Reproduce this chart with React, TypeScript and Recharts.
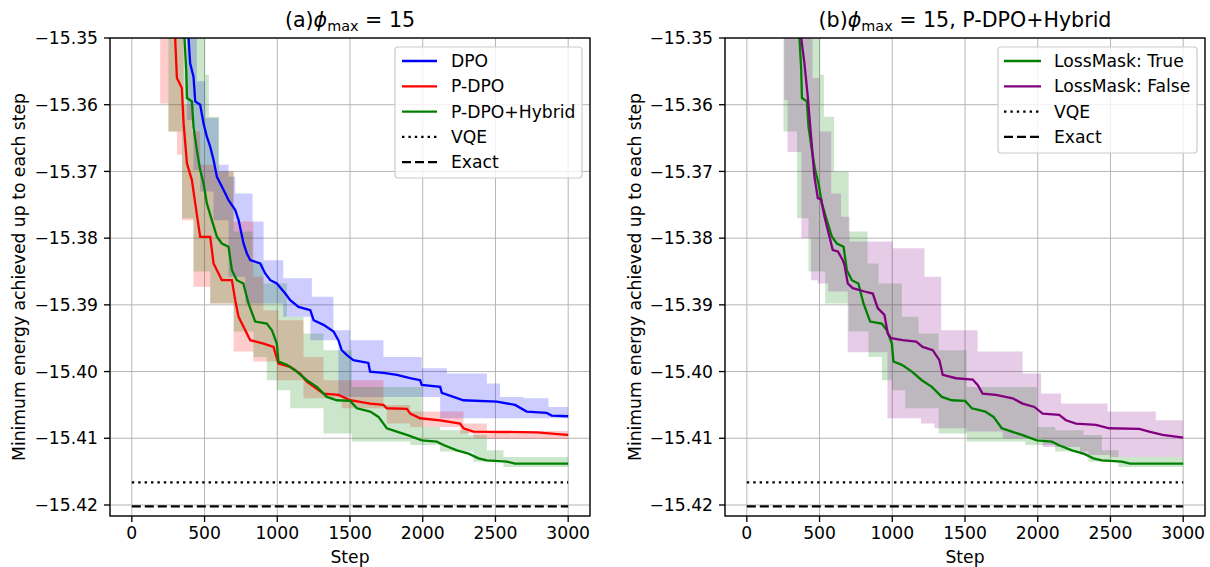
import React from 'react';
import { ComposedChart, Line, Area, XAxis, YAxis, CartesianGrid } from 'recharts';

// ---------- shared axis values ----------
const xTicks = [0, 500, 1000, 1500, 2000, 2500, 3000];
const yTicks = [-15.42, -15.41, -15.4, -15.39, -15.38, -15.37, -15.36, -15.35];
const xDomain = [-150, 3150];
const yDomain = [-15.42165, -15.35];

// reference energies
const vqeSteps = [0, 3000];
const vqeEnergy = -15.4166;
const exactEnergy = -15.4202;

// ---------- panel (a) : DPO ----------
const dpoSteps = [370, 390, 401, 424, 436, 470, 493, 516, 539, 562, 585, 631, 665, 711, 734, 768, 791, 814, 883, 917, 952, 997, 1055, 1089, 1146, 1227, 1250, 1318, 1387, 1420, 1443, 1477, 1523, 1626, 1638, 1730, 1822, 1913, 1982, 1993, 2120, 2131, 2211, 2280, 2509, 2635, 2715, 2852, 2887, 3000];
const dpoMean = [-15.347, -15.35, -15.3538, -15.3558, -15.3595, -15.36, -15.3628, -15.3648, -15.3663, -15.3683, -15.3708, -15.3728, -15.3743, -15.3758, -15.3773, -15.3808, -15.3823, -15.3833, -15.3838, -15.3853, -15.3863, -15.3868, -15.3883, -15.3893, -15.3903, -15.3908, -15.3923, -15.393, -15.394, -15.3953, -15.3968, -15.3975, -15.3983, -15.3987, -15.4, -15.4002, -15.4005, -15.401, -15.4013, -15.402, -15.4023, -15.4032, -15.4038, -15.4043, -15.4045, -15.405, -15.406, -15.4062, -15.4066, -15.4067];
const dpoBandSteps = [380, 424, 447, 470, 505, 562, 596, 665, 711, 780, 830, 906, 1041, 1227, 1238, 1386, 1420, 1501, 1730, 1993, 2120, 2166, 2441, 2532, 2693, 2864, 3000];
const dpoLo = [-15.3623, -15.3698, -15.3698, -15.373, -15.373, -15.3773, -15.3773, -15.3858, -15.3858, -15.3898, -15.3898, -15.3898, -15.3918, -15.3953, -15.3953, -15.3953, -15.4038, -15.4038, -15.4038, -15.4038, -15.407, -15.407, -15.407, -15.407, -15.407, -15.407, -15.407];
const dpoHi = [-15.345, -15.345, -15.3565, -15.3565, -15.362, -15.362, -15.369, -15.3708, -15.3733, -15.3733, -15.3775, -15.3833, -15.386, -15.386, -15.3888, -15.3938, -15.3938, -15.3953, -15.3978, -15.3995, -15.3995, -15.4003, -15.4018, -15.4038, -15.404, -15.4053, -15.4053];

// ---------- panel (a) : P-DPO ----------
const pdpoSteps = [280, 298, 310, 344, 356, 379, 413, 436, 470, 539, 562, 596, 619, 688, 711, 734, 780, 814, 906, 974, 1008, 1089, 1157, 1203, 1318, 1421, 1501, 1639, 1730, 1753, 1891, 1914, 1982, 2120, 2257, 2280, 2349, 2785, 2991, 3000];
const pdpoMean = [-15.345, -15.35, -15.356, -15.3575, -15.3628, -15.3688, -15.3713, -15.3748, -15.3798, -15.3798, -15.3838, -15.3853, -15.3863, -15.3863, -15.3893, -15.3918, -15.3938, -15.3953, -15.3958, -15.3963, -15.3988, -15.3993, -15.4003, -15.4015, -15.4033, -15.4035, -15.4043, -15.4048, -15.405, -15.4055, -15.4056, -15.4063, -15.407, -15.4073, -15.4078, -15.4085, -15.409, -15.4091, -15.4095, -15.4095];
const pdpoBandSteps = [195, 252, 310, 345, 356, 413, 424, 470, 539, 573, 700, 836, 905, 997, 1008, 1180, 1318, 1443, 1730, 1753, 1914, 2257, 2280, 2350, 2441, 3000];
const pdpoLo = [-15.3598, -15.364, -15.3675, -15.3773, -15.3773, -15.3773, -15.3873, -15.3873, -15.3898, -15.3898, -15.397, -15.3985, -15.3985, -15.4013, -15.4013, -15.404, -15.404, -15.4055, -15.4055, -15.4078, -15.4083, -15.4093, -15.4093, -15.41, -15.4101, -15.4101];
const pdpoHi = [-15.345, -15.345, -15.345, -15.345, -15.36, -15.364, -15.364, -15.369, -15.369, -15.37, -15.3775, -15.3858, -15.3908, -15.3908, -15.3923, -15.3978, -15.4013, -15.4013, -15.405, -15.405, -15.406, -15.406, -15.4078, -15.4078, -15.4089, -15.4089];

// ---------- P-DPO+Hybrid (= LossMask: True) ----------
const hybSteps = [350, 362, 374, 379, 413, 424, 447, 470, 493, 516, 550, 585, 619, 665, 688, 722, 767, 802, 848, 928, 963, 997, 1008, 1066, 1135, 1203, 1272, 1341, 1410, 1501, 1547, 1639, 1696, 1753, 1822, 1891, 1994, 2097, 2143, 2235, 2315, 2383, 2441, 2578, 2635, 3000];
const hybMean = [-15.345, -15.35, -15.3548, -15.359, -15.3595, -15.3633, -15.3668, -15.3698, -15.3718, -15.3748, -15.3773, -15.3798, -15.3808, -15.3813, -15.3848, -15.3863, -15.3868, -15.3898, -15.3925, -15.3928, -15.3938, -15.3958, -15.3985, -15.399, -15.4, -15.4013, -15.4023, -15.4038, -15.4043, -15.4044, -15.4055, -15.406, -15.4068, -15.4085, -15.409, -15.4095, -15.4103, -15.4105, -15.411, -15.4118, -15.4123, -15.413, -15.4133, -15.4135, -15.4138, -15.4138];
const hybBandSteps = [252, 345, 380, 424, 505, 530, 539, 600, 700, 830, 836, 905, 928, 997, 1066, 1089, 1180, 1318, 1512, 1914, 1994, 2120, 2315, 2349, 2441, 2555, 3000];
const hybLo = [-15.364, -15.377, -15.377, -15.385, -15.385, -15.385, -15.3898, -15.3898, -15.394, -15.394, -15.3978, -15.3978, -15.4013, -15.4028, -15.4028, -15.4055, -15.4055, -15.4093, -15.4105, -15.411, -15.411, -15.412, -15.412, -15.4135, -15.4135, -15.4143, -15.4143];
const hybHi = [-15.345, -15.345, -15.345, -15.345, -15.3555, -15.3618, -15.3618, -15.37, -15.379, -15.3838, -15.3838, -15.3868, -15.3868, -15.3868, -15.3918, -15.3918, -15.3943, -15.3968, -15.4023, -15.4023, -15.4083, -15.4088, -15.4095, -15.4095, -15.4118, -15.4128, -15.4128];

// ---------- panel (b) : LossMask: False ----------
const lmfSteps = [360, 374, 396, 419, 442, 465, 488, 511, 534, 568, 591, 626, 660, 671, 694, 728, 809, 866, 900, 946, 969, 992, 1072, 1164, 1209, 1278, 1324, 1347, 1438, 1553, 1587, 1621, 1713, 1827, 1896, 1977, 2034, 2148, 2194, 2263, 2400, 2492, 2698, 2766, 2858, 3000];
const lmfMean = [-15.345, -15.35, -15.3538, -15.3588, -15.3648, -15.3708, -15.374, -15.3742, -15.3768, -15.3798, -15.3818, -15.382, -15.3833, -15.384, -15.3868, -15.3875, -15.388, -15.3883, -15.3905, -15.3915, -15.3943, -15.395, -15.3953, -15.3955, -15.3963, -15.3968, -15.3983, -15.4005, -15.401, -15.4012, -15.402, -15.4033, -15.4035, -15.404, -15.4048, -15.4053, -15.4063, -15.4065, -15.4073, -15.4078, -15.408, -15.4085, -15.4086, -15.409, -15.4095, -15.4099];
const lmfBandSteps = [257, 280, 375, 442, 452, 487, 499, 560, 580, 648, 694, 706, 967, 1003, 1198, 1221, 1290, 1336, 1510, 1587, 1760, 1896, 2023, 2034, 2160, 2290, 2480, 2500, 2812, 3000];
const lmfLo = [-15.3593, -15.3671, -15.38, -15.3863, -15.3863, -15.3868, -15.3868, -15.388, -15.388, -15.388, -15.3971, -15.3971, -15.407, -15.407, -15.4078, -15.4078, -15.4085, -15.4085, -15.409, -15.409, -15.41, -15.41, -15.41, -15.4113, -15.4113, -15.4125, -15.4125, -15.4128, -15.4128, -15.4128];
const lmfHi = [-15.345, -15.345, -15.345, -15.345, -15.356, -15.356, -15.364, -15.364, -15.3733, -15.3768, -15.3768, -15.3805, -15.3805, -15.3815, -15.3815, -15.3858, -15.3858, -15.3938, -15.3938, -15.397, -15.397, -15.4003, -15.4033, -15.4033, -15.4048, -15.4048, -15.406, -15.406, -15.4073, -15.4073];

// ---------- helpers ----------
const mkLine = (steps: number[], vals: number[]) => steps.map((s, i) => ({ step: s, v: vals[i] }));
const mkBand = (steps: number[], lo: number[], hi: number[]) => steps.map((s, i) => ({ step: s, r: [lo[i], hi[i]] }));
const mkConst = (steps: number[], val: number) => steps.map((s) => ({ step: s, v: val }));

const FONT = "'DejaVu Sans', 'Liberation Sans', sans-serif";
const FS = 17.2;
const LW = 2.3;
const DOT = '2.4 4';
const DASH = '9 4';

const BLUE = '#0000ff';
const RED = '#ff0000';
const GREEN = '#008000';
const PURPLE = '#800080';

type SeriesDef = { name: string; color: string; line: { step: number; v: number }[]; band: { step: number; r: number[] }[] };

const panelA: SeriesDef[] = [
  { name: 'DPO', color: BLUE, line: mkLine(dpoSteps, dpoMean), band: mkBand(dpoBandSteps, dpoLo, dpoHi) },
  { name: 'P-DPO', color: RED, line: mkLine(pdpoSteps, pdpoMean), band: mkBand(pdpoBandSteps, pdpoLo, pdpoHi) },
  { name: 'P-DPO+Hybrid', color: GREEN, line: mkLine(hybSteps, hybMean), band: mkBand(hybBandSteps, hybLo, hybHi) },
];
const panelB: SeriesDef[] = [
  { name: 'LossMask: True', color: GREEN, line: mkLine(hybSteps, hybMean), band: mkBand(hybBandSteps, hybLo, hybHi) },
  { name: 'LossMask: False', color: PURPLE, line: mkLine(lmfSteps, lmfMean), band: mkBand(lmfBandSteps, lmfLo, lmfHi) },
];

const PW = 605;
const PH = 567;
const PLOT_TOP = 38;
const PLOT_H = 478;
const PLOT_W = 480;
const YAXIS_W = 70;
const XAXIS_H = 40;

const fmtY = (v: number) => v.toFixed(2).replace('-', '\u2212');

type PanelProps = {
  left: number;
  plotLeft: number;
  series: SeriesDef[];
  titleTail: string;
  titlePrefix: string;
  legendBox: { x: number; y: number; w: number; h: number };
  legendSample: [number, number];
  legendTextX: number;
  ylabelX: number;
};

function Panel(p: PanelProps) {
  const marginLeft = p.plotLeft - YAXIS_W;
  const marginRight = PW - p.plotLeft - PLOT_W;
  const marginBottom = PH - PLOT_TOP - PLOT_H - XAXIS_H;
  const legendItems = [
    ...p.series.map((s) => ({ name: s.name, color: s.color, dash: undefined as string | undefined })),
    { name: 'VQE', color: '#000', dash: DOT },
    { name: 'Exact', color: '#000', dash: DASH },
  ];
  const tick = { fontFamily: FONT, fontSize: FS, fill: '#000' };
  return (
    <div style={{ position: 'absolute', left: p.left, top: 0, width: PW, height: PH }}>
      <ComposedChart
        width={PW}
        height={PH}
        margin={{ top: PLOT_TOP, left: marginLeft, right: marginRight, bottom: marginBottom }}
      >
        <XAxis
          dataKey="step"
          type="number"
          domain={xDomain}
          ticks={xTicks}
          allowDataOverflow
          height={XAXIS_H}
          axisLine={false}
          tickLine={{ stroke: '#000', strokeWidth: 1.33 }}
          tickSize={6}
          tickMargin={5}
          tick={tick}
          interval={0}
        />
        <YAxis
          type="number"
          domain={yDomain}
          ticks={yTicks}
          allowDataOverflow
          width={YAXIS_W}
          axisLine={false}
          tickLine={{ stroke: '#000', strokeWidth: 1.33 }}
          tickSize={6}
          tickMargin={6}
          tick={tick}
          tickFormatter={fmtY}
          interval={0}
        />
        <CartesianGrid stroke="#b6b6b6" strokeWidth={1} />
        {p.series.map((s) => (
          <Area
            key={'band-' + s.name}
            data={s.band}
            dataKey="r"
            type="stepAfter"
            stroke="none"
            fill={s.color}
            fillOpacity={0.2}
            isAnimationActive={false}
            dot={false}
            activeDot={false}
          />
        ))}
        {p.series.map((s) => (
          <Line
            key={'line-' + s.name}
            data={s.line}
            dataKey="v"
            type="linear"
            stroke={s.color}
            strokeWidth={LW}
            dot={false}
            activeDot={false}
            isAnimationActive={false}
          />
        ))}
        <Line
          data={mkConst(vqeSteps, vqeEnergy)}
          dataKey="v"
          type="linear"
          stroke="#000"
          strokeWidth={LW}
          strokeDasharray={DOT}
          dot={false}
          activeDot={false}
          isAnimationActive={false}
        />
        <Line
          data={mkConst(vqeSteps, exactEnergy)}
          dataKey="v"
          type="linear"
          stroke="#000"
          strokeWidth={LW}
          strokeDasharray={DASH}
          dot={false}
          activeDot={false}
          isAnimationActive={false}
        />
      </ComposedChart>
      <svg
        width={PW}
        height={PH}
        style={{ position: 'absolute', left: 0, top: 0, pointerEvents: 'none' }}
        fontFamily={FONT}
      >
        <rect x={p.plotLeft} y={PLOT_TOP} width={PLOT_W} height={PLOT_H} fill="none" stroke="#000" strokeWidth={1.33} />
        <text x={p.plotLeft + PLOT_W / 2} y={27} textAnchor="middle" fontSize={20.6} fill="#000">
          <tspan>{p.titlePrefix}</tspan>
          <tspan fontStyle="italic">{'\u03D5'}</tspan>
          <tspan fontSize={14.4} dy={4}>max</tspan>
          <tspan dy={-4}>{' = 15' + p.titleTail}</tspan>
        </text>
        <text
          x={p.ylabelX}
          y={PLOT_TOP + PLOT_H / 2}
          textAnchor="middle"
          fontSize={FS}
          fill="#000"
          transform={`rotate(-90 ${p.ylabelX} ${PLOT_TOP + PLOT_H / 2})`}
        >
          Minimum energy achieved up to each step
        </text>
        <text x={p.plotLeft + PLOT_W / 2} y={563} textAnchor="middle" fontSize={FS} fill="#000">
          Step
        </text>
        <rect
          x={p.legendBox.x}
          y={p.legendBox.y}
          width={p.legendBox.w}
          height={p.legendBox.h}
          rx={3}
          fill="#fff"
          fillOpacity={0.8}
          stroke="#cccccc"
          strokeWidth={1.2}
        />
        {legendItems.map((it, i) => {
          const cy = 61 + i * 25.3;
          return (
            <g key={it.name}>
              <line
                x1={p.legendSample[0]}
                x2={p.legendSample[1]}
                y1={cy}
                y2={cy}
                stroke={it.color}
                strokeWidth={LW}
                strokeDasharray={it.dash}
              />
              <text x={p.legendTextX} y={cy + 6} fontSize={FS} fill="#000">
                {it.name}
              </text>
            </g>
          );
        })}
      </svg>
    </div>
  );
}

export default function App() {
  return (
    <div style={{ position: 'absolute', left: 0, top: 0, width: 1210, height: 567, background: '#fff', overflow: 'hidden' }}>
      <Panel
        left={0}
        plotLeft={110}
        series={panelA}
        titlePrefix="(a)"
        titleTail=""
        legendBox={{ x: 395, y: 47, w: 187, h: 131 }}
        legendSample={[402, 437]}
        legendTextX={451}
        ylabelX={25}
      />
      <Panel
        left={605}
        plotLeft={120}
        series={panelB}
        titlePrefix="(b)"
        titleTail=", P-DPO+Hybrid"
        legendBox={{ x: 393, y: 47, w: 199, h: 106 }}
        legendSample={[399, 436]}
        legendTextX={449}
        ylabelX={36}
      />
    </div>
  );
}
